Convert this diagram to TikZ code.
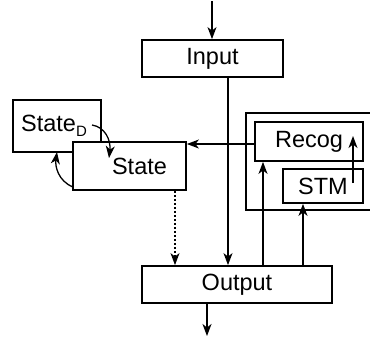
\documentclass[tikz,border=0pt]{standalone}
\usepackage{fontspec}
\setmainfont{Liberation Sans}
\usetikzlibrary{arrows.meta}
\tikzset{
  box/.style={draw, line width=1.8pt, inner sep=0pt, fill=white,
    font=\fontsize{23.5}{27}\selectfont},
  conn/.style={line width=1.3pt, -{Stealth[length=12pt,width=9pt,inset=3.5pt]}},
  dotconn/.style={conn, dash pattern=on 2pt off 2pt},
}
\begin{document}
\begin{tikzpicture}[x=1pt,y=-1pt]
\useasboundingbox (0,0) rectangle (370,338);

% enclosing frame around Recog and STM (open towards the right)
\draw[line width=1.8pt] (380,113) -- (246,113) -- (246,210) -- (380,210);

% blocks
\node[box, minimum width=141pt, minimum height=37pt] (in) at (212.5,58.5) {Input};
\node[box, minimum width=190pt, minimum height=37pt] (out) at (237,284.5) {Output};
\node[box, minimum width=88pt, minimum height=52pt] (sd) at (57,126)
  {\hspace{-6pt}State\raisebox{-5pt}{\fontsize{15}{15}\selectfont D}};
\node[box, minimum width=113pt, minimum height=48pt] (st) at (129.5,166)
  {\hspace{20pt}State};
\node[box, minimum width=108pt, minimum height=39pt] (rec) at (309,141.5)
  {Recog\hspace{8pt}};
\node[box, minimum width=80pt, minimum height=34pt] (stm) at (323,186) {STM};

% free ends
\coordinate (top) at (212,1);
\coordinate (bot) at (207,336);
\coordinate (stmin) at (353,183);
\coordinate (recin) at (353,136);
\coordinate (sdout) at (92,125);
\coordinate (stin) at (109,158);
\coordinate (stout) at (73,187);
\coordinate (sdin) at (57,152);

% connectors
\draw[conn] (top) -- (in.north -| top);
\draw[conn] (in.south -| 228,0) -- (out.north -| 228,0);
\draw[conn] (out.south -| bot) -- (bot);
\draw[dotconn] (st.south -| 175,0) -- (out.north -| 175,0);
\draw[conn] (rec.west |- 0,144) -- (st.east |- 0,144);
\draw[conn] (out.north -| 263,0) -- (rec.south -| 263,0);
\draw[conn] (out.north -| 303,0) -- (stm.south -| 303,0);
\draw[conn] (stmin) -- (recin);
\draw[conn] (sdout) .. controls (105,127) and (111,140) .. (stin);
\draw[conn] (stout) .. controls (58,181) and (55,166) .. (sdin);
\end{tikzpicture}
\end{document}
